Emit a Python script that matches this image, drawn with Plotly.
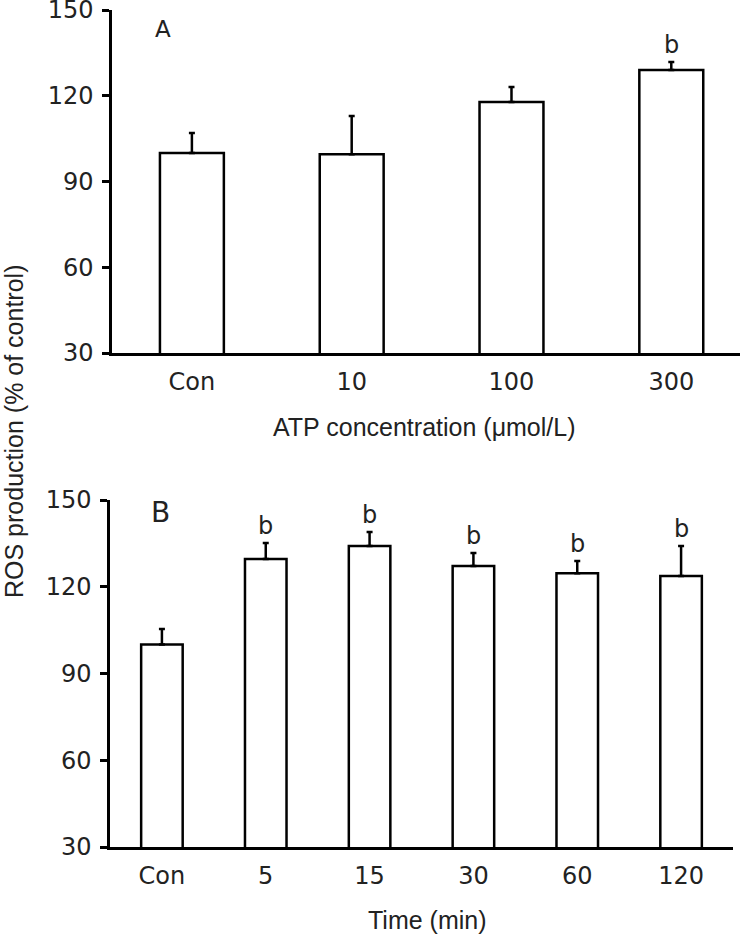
import plotly.graph_objects as go

# Panel A data
conc_labels = ["Con", "10", "100", "300"]
conc_mean = [100, 99.5, 117.8, 129]
conc_sd = [7, 13.4, 5.3, 2.8]
conc_sig = ["", "", "", "b"]

# Panel B data
time_labels = ["Con", "5", "15", "30", "60", "120"]
time_mean = [100, 129.6, 134.1, 127.2, 124.7, 123.7]
time_sd = [5.4, 5.5, 4.8, 4.5, 4.2, 10.4]
time_sig = ["", "b", "b", "b", "b", "b"]

y_ticks = [30, 60, 90, 120, 150]

W, H = 740, 934
FONT = "DejaVu Sans"
TFONT = "Liberation Sans"
TXT = "#222"
fig = go.Figure()

def add_panel(labels, means, sds, xa, ya):
    fig.add_trace(go.Bar(
        x=labels, y=means, width=0.4, xaxis=xa, yaxis=ya,
        marker=dict(color="white", line=dict(color="black", width=2.5)),
        error_y=dict(type="data", array=sds, arrayminus=[0] * len(sds), symmetric=False,
                     color="black", thickness=2.5, width=3),
        showlegend=False, hoverinfo="skip",
    ))

add_panel(conc_labels, conc_mean, conc_sd, "x", "y")
add_panel(time_labels, time_mean, time_sd, "x2", "y2")

ann = []
for i, (m, s, t) in enumerate(zip(conc_mean, conc_sd, conc_sig)):
    if t:
        ann.append(dict(x=i, y=m + s, xref="x", yref="y", text=t, showarrow=False,
                        xanchor="center", yanchor="bottom", yshift=1,
                        font=dict(size=24, family=FONT, color=TXT)))
for i, (m, s, t) in enumerate(zip(time_mean, time_sd, time_sig)):
    if t:
        ann.append(dict(x=i, y=m + s, xref="x2", yref="y2", text=t, showarrow=False,
                        xanchor="center", yanchor="bottom", yshift=1,
                        font=dict(size=24, family=FONT, color=TXT)))

def px(xp, yp):
    return dict(x=xp / W, y=1 - yp / H, xref="paper", yref="paper", showarrow=False,
                xanchor="center", yanchor="middle")

ann.append(dict(**px(163, 29), text="A", font=dict(size=23, family=FONT, color=TXT)))
ann.append(dict(**px(160, 512), text="B", font=dict(size=28, family=FONT, color=TXT)))
ann.append(dict(**px(424, 427), text="ATP concentration (μmol/L)",
                font=dict(size=25, family=TFONT, color=TXT)))
ann.append(dict(**px(427, 920), text="Time (min)",
                font=dict(size=25, family=TFONT, color=TXT)))
ann.append(dict(**px(14, 432), text="ROS production (% of control)", textangle=-90,
                font=dict(size=25, family=TFONT, color=TXT)))

xcommon = dict(showline=True, linecolor="black", linewidth=2.5, ticks="", showgrid=False, zeroline=False,
               tickfont=dict(size=24, family=FONT, color=TXT), ticklabelstandoff=5, fixedrange=True,
               automargin=False)
ycommon = dict(showline=True, linecolor="black", linewidth=2.5, ticks="outside", ticklen=7, tickwidth=2.5,
               tickcolor="black", showgrid=False, zeroline=False, range=[30, 150], tickvals=y_ticks,
               tickfont=dict(size=24, family=FONT, color=TXT), ticklabelstandoff=4, automargin=False,
               ticklabeloverflow="allow", fixedrange=True)

fig.update_layout(
    width=W, height=H, margin=dict(l=0, r=0, t=0, b=0, autoexpand=False),
    paper_bgcolor="white", plot_bgcolor="white", showlegend=False,
    xaxis=dict(domain=[112 / W, 1.0], anchor="y", range=[-0.5, 3.43], **xcommon),
    yaxis=dict(domain=[1 - 353 / H, 1 - 10 / H], anchor="x", **ycommon),
    xaxis2=dict(domain=[110 / W, 733 / W], anchor="y2", range=[-0.5, 5.5], **xcommon),
    yaxis2=dict(domain=[1 - 847 / H, 1 - 500 / H], anchor="x2", **ycommon),
    annotations=ann,
)

# remove the default 8px page margin so the figure fills the window exactly
fig.write_html("out.html", config={"displayModeBar": False},
               post_script="document.body.style.margin='0';")
